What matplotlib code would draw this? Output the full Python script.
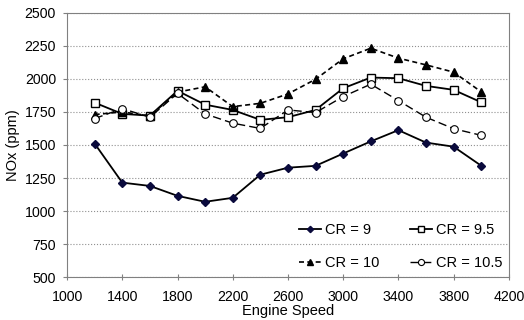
import matplotlib
matplotlib.use("Agg")
import matplotlib.pyplot as plt

plt.rcParams['font.family'] = ['Liberation Sans', 'DejaVu Sans']
plt.rcParams['font.size'] = 10

# engine speed (rpm) and NOx (ppm) per compression ratio
speed = [1200, 1400, 1600, 1800, 2000, 2200, 2400, 2600, 2800, 3000, 3200, 3400, 3600, 3800, 4000]
cr9 = [1510, 1215, 1190, 1115, 1070, 1100, 1275, 1328, 1342, 1435, 1527, 1612, 1518, 1487, 1343]
cr95 = [1820, 1735, 1722, 1910, 1805, 1765, 1690, 1710, 1765, 1929, 2010, 2005, 1947, 1917, 1823]
cr10 = [1730, 1750, 1720, 1900, 1940, 1790, 1815, 1886, 1997, 2152, 2232, 2157, 2106, 2051, 1902]
cr105 = [1700, 1775, 1710, 1890, 1735, 1665, 1625, 1765, 1745, 1866, 1960, 1836, 1710, 1623, 1573]

fig = plt.figure(figsize=(5.24, 3.2), dpi=100)
ax = fig.add_subplot(111)
fig.subplots_adjust(left=0.128, right=0.971, top=0.96, bottom=0.134)

l9, = ax.plot(speed, cr9, color='black', lw=1.3, marker='D', ms=4,
              mfc='#0a0a3c', mec='#0a0a3c', label='CR = 9')
l95, = ax.plot(speed, cr95, color='black', lw=1.3, marker='s', ms=6,
               mfc='white', mec='black', mew=1.0, label='CR = 9.5')
l10, = ax.plot(speed, cr10, color='black', lw=1.2, ls=(0, (3, 2)), marker='^', ms=6,
               mfc='black', mec='black', label='CR = 10')
l105, = ax.plot(speed, cr105, color='black', lw=1.0, ls=(0, (6, 3)), marker='o', ms=5.5,
                mfc='white', mec='black', mew=0.8, label='CR = 10.5')

ax.set_xlim(1000, 4200)
ax.set_ylim(500, 2500)
ax.set_xticks(range(1000, 4201, 400))
ax.set_yticks(range(500, 2501, 250))
ax.set_xlabel('Engine Speed', labelpad=0, fontsize=10.5)
ax.set_ylabel('NOx (ppm)', labelpad=3, fontsize=10.5)

ax.yaxis.grid(True, color='#909090', ls=':', lw=0.8)
for s in ax.spines.values():
    s.set_color('#808080')
ax.tick_params(axis='both', color='#808080', length=4, labelsize=10.2)
ax.tick_params(axis='x', direction='inout', pad=7)
ax.tick_params(axis='y', direction='out', length=3, pad=5)

# row-wise order: 9, 9.5 on top; 10, 10.5 below
leg = ax.legend([l9, l10, l95, l105], ['CR = 9', 'CR = 10', 'CR = 9.5', 'CR = 10.5'],
                loc='upper left', ncol=2, frameon=False, fontsize=10.5,
                handlelength=1.5, handletextpad=0.3, columnspacing=2.1,
                labelspacing=1.3, borderpad=0, borderaxespad=0, markerscale=0.8,
                bbox_to_anchor=(0.525, 0.205))

fig.savefig('out.png', dpi=100)
